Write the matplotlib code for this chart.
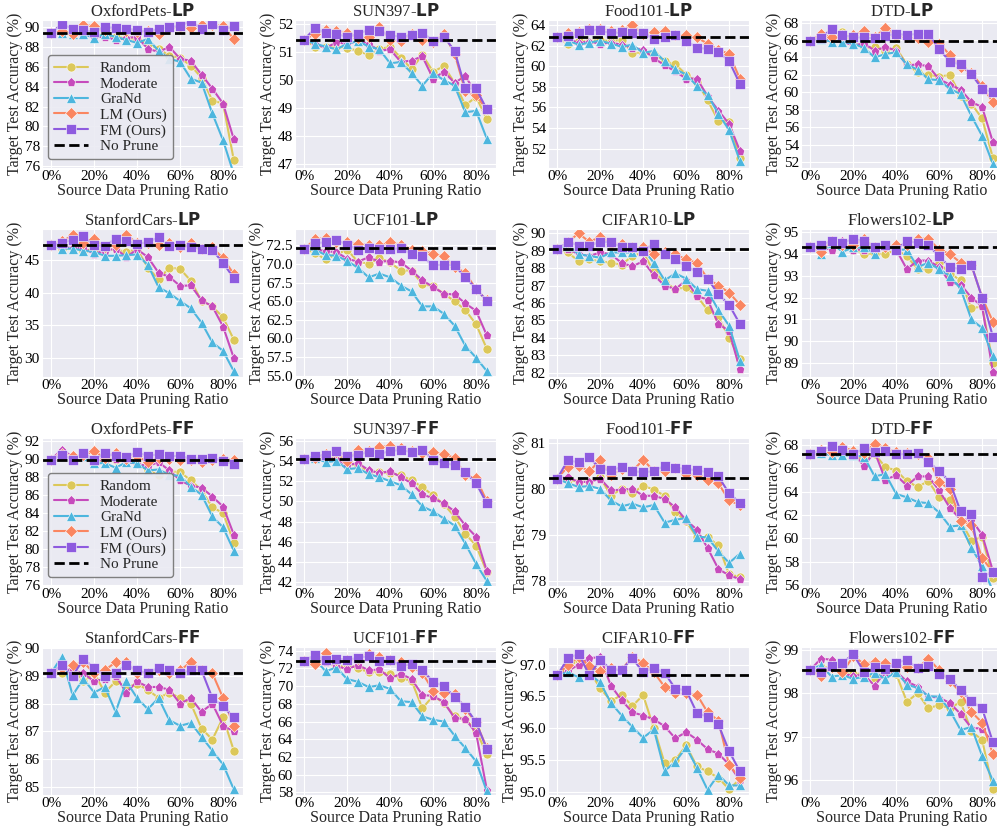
import numpy as np
import matplotlib
matplotlib.use("Agg")
import matplotlib.pyplot as plt
import seaborn as sns

sns.set_style("darkgrid")
plt.rcParams['font.family'] = ['Liberation Serif', 'DejaVu Serif']
plt.rcParams['mathtext.fontset'] = 'dejavusans'

# pruning ratios (%)
ratios = [0, 5, 10, 15, 20, 25, 30, 35, 40, 45, 50, 55, 60, 65, 70, 75, 80, 85]
methods = ['Random', 'Moderate', 'GraNd', 'LM (Ours)', 'FM (Ours)']
colors = ['#DCC85A', '#C64BBC', '#4DB6DE', '#FA8661', '#8E5BDF']
markers = ['o', 'p', '^', 'D', 's']

# ---------------- LP ----------------
pets_lp_nop = 89.4
pets_lp_random = [89.4, 89.5, 89.3, 89.5, 89.2, 89.2, 89.0, 88.9, 88.8, 88.3, 87.8, 87.1, 86.9, 86.1, 84.9, 82.6, 82.3, 76.6]
pets_lp_moderate = [89.4, 89.3, 89.3, 89.2, 89.0, 89.0, 88.7, 88.9, 89.0, 87.8, 87.5, 88.0, 86.8, 86.6, 85.2, 83.8, 82.3, 78.7]
pets_lp_grand = [89.4, 89.4, 89.3, 89.3, 88.9, 89.3, 89.0, 88.7, 88.4, 88.8, 87.6, 86.8, 86.5, 84.8, 84.4, 81.3, 78.6, 75.2]
pets_lp_lm = [89.4, 89.6, 89.3, 90.2, 90.1, 89.7, 89.8, 89.6, 89.5, 89.6, 89.3, 89.9, 90.0, 89.9, 90.2, 90.2, 90.1, 88.8]
pets_lp_fm = [89.4, 90.3, 89.8, 89.7, 89.5, 90.0, 89.9, 89.8, 89.7, 89.5, 89.8, 90.0, 90.1, 90.6, 89.8, 90.3, 89.7, 90.1]

sun_lp_nop = 51.45
sun_lp_random = [51.45, 51.2, 51.2, 51.2, 51.15, 51.05, 50.9, 51.1, 51.2, 50.8, 50.4, 50.9, 50.3, 50.5, 49.9, 49.1, 49.4, 48.6]
sun_lp_moderate = [51.45, 51.3, 51.15, 51.35, 51.3, 51.4, 51.3, 51.05, 51.1, 50.65, 50.7, 50.85, 50.05, 50.3, 49.9, 50.15, 49.5, 48.95]
sun_lp_grand = [51.45, 51.3, 51.2, 51.1, 51.3, 51.4, 51.2, 51.1, 50.6, 50.65, 50.25, 49.8, 50.25, 50.0, 49.8, 48.85, 48.9, 47.9]
sun_lp_lm = [51.45, 51.65, 51.8, 51.75, 51.7, 51.5, 51.55, 51.9, 51.45, 51.4, 51.65, 51.45, 51.35, 51.65, 50.95, 49.6, 49.45, 48.95]
sun_lp_fm = [51.45, 51.85, 51.7, 51.65, 51.55, 51.65, 51.8, 51.75, 51.6, 51.55, 51.6, 51.7, 51.4, 51.55, 51.05, 49.7, 49.7, 48.95]

food_lp_nop = 62.8
food_lp_random = [62.8, 62.2, 62.5, 62.4, 62.6, 62.4, 62.6, 61.3, 61.3, 61.2, 60.5, 60.2, 59.2, 58.5, 56.7, 54.7, 54.6, 51.1]
food_lp_moderate = [62.8, 62.6, 62.3, 62.4, 62.2, 62.3, 62.1, 61.8, 61.6, 60.8, 60.1, 59.5, 58.8, 58.8, 57.1, 55.7, 54.4, 51.8]
food_lp_grand = [62.8, 62.5, 62.1, 62.3, 62.5, 62.2, 61.9, 62.1, 61.3, 61.5, 60.5, 59.7, 59.2, 58.1, 57.2, 55.4, 53.8, 50.8]
food_lp_lm = [62.8, 63.2, 63.3, 63.6, 63.6, 63.4, 63.5, 64.0, 63.1, 63.3, 63.4, 63.0, 63.0, 62.8, 62.2, 61.6, 61.2, 58.8]
food_lp_fm = [62.8, 62.9, 63.2, 63.5, 63.5, 63.2, 63.3, 63.2, 63.2, 62.7, 62.8, 63.0, 62.5, 61.8, 61.7, 61.4, 60.5, 58.3]

dtd_lp_nop = 65.9
dtd_lp_random = [65.9, 66.2, 66.0, 66.9, 65.6, 65.2, 65.2, 64.8, 65.1, 63.2, 62.3, 62.0, 61.8, 62.0, 59.6, 58.7, 57.0, 52.5]
dtd_lp_moderate = [65.9, 66.1, 66.0, 65.8, 65.4, 65.6, 64.8, 65.2, 64.8, 63.1, 63.2, 63.0, 61.5, 60.9, 60.3, 58.9, 58.3, 54.3]
dtd_lp_grand = [65.9, 66.1, 65.8, 65.8, 65.6, 65.1, 64.0, 64.4, 64.6, 63.2, 62.6, 61.5, 61.4, 60.4, 59.8, 57.3, 55.0, 51.8]
dtd_lp_lm = [65.9, 66.7, 66.3, 66.6, 66.6, 67.0, 66.3, 67.4, 66.5, 66.3, 66.2, 65.8, 65.6, 64.3, 62.9, 62.2, 60.7, 58.9]
dtd_lp_fm = [65.9, 66.2, 67.3, 66.6, 66.3, 66.3, 66.2, 66.5, 66.7, 66.6, 66.7, 66.7, 65.0, 63.5, 63.2, 62.1, 60.4, 60.0]

cars_lp_nop = 47.25
cars_lp_random = [47.2, 46.6, 46.8, 46.4, 46.6, 46.5, 46.6, 46.2, 46.6, 43.8, 42.0, 43.8, 43.6, 41.8, 38.7, 37.9, 36.2, 32.8]
cars_lp_moderate = [47.2, 46.9, 46.8, 46.8, 45.9, 46.4, 46.7, 45.4, 46.6, 45.4, 43.0, 42.4, 41.0, 41.1, 38.8, 37.9, 34.8, 30.0]
cars_lp_grand = [47.2, 46.7, 46.7, 46.4, 46.2, 45.6, 45.6, 45.7, 45.8, 44.2, 40.8, 39.9, 38.7, 37.6, 35.4, 32.4, 31.1, 28.0]
cars_lp_lm = [47.2, 47.8, 48.7, 47.5, 48.1, 47.0, 47.2, 48.8, 47.5, 47.6, 47.3, 47.6, 47.0, 47.6, 46.6, 46.9, 45.2, 42.8]
cars_lp_fm = [47.2, 47.6, 48.0, 48.6, 47.2, 47.1, 48.2, 47.9, 47.4, 47.7, 48.4, 47.1, 47.3, 46.9, 46.7, 46.5, 44.5, 42.2]

ucf_lp_nop = 72.2
ucf_lp_random = [72.0, 71.5, 70.6, 71.3, 71.9, 70.3, 70.0, 70.8, 70.2, 69.1, 69.1, 67.3, 67.0, 66.0, 65.0, 63.8, 61.9, 58.6]
ucf_lp_moderate = [72.0, 72.0, 71.7, 71.6, 70.7, 70.3, 70.9, 70.3, 70.4, 70.2, 69.1, 67.8, 66.9, 66.0, 65.9, 64.7, 63.7, 60.4]
ucf_lp_grand = [72.0, 71.9, 71.2, 71.1, 70.4, 69.5, 68.2, 68.7, 68.2, 67.1, 66.3, 64.3, 64.3, 63.3, 61.7, 59.0, 57.4, 55.6]
ucf_lp_lm = [72.0, 73.3, 73.5, 73.0, 72.9, 72.7, 72.6, 72.5, 72.9, 72.6, 71.9, 71.8, 71.4, 71.0, 69.6, 68.8, 66.6, 65.1]
ucf_lp_fm = [72.0, 72.8, 72.9, 73.2, 72.6, 71.9, 72.2, 72.0, 72.0, 72.1, 71.3, 71.0, 69.8, 69.9, 69.8, 68.2, 66.7, 65.0]

cifar_lp_nop = 89.1
cifar_lp_random = [89.1, 88.9, 88.4, 88.5, 88.4, 88.3, 88.2, 88.7, 88.9, 87.8, 87.2, 86.8, 86.9, 86.4, 85.6, 85.2, 84.0, 82.8]
cifar_lp_moderate = [89.1, 89.1, 88.8, 88.7, 88.9, 88.8, 88.3, 88.1, 88.4, 87.6, 87.0, 86.8, 87.3, 86.4, 86.2, 84.8, 84.4, 82.2]
cifar_lp_grand = [89.1, 89.3, 88.8, 88.7, 88.6, 88.9, 88.9, 88.9, 89.1, 88.3, 87.3, 87.7, 87.4, 86.8, 86.7, 85.6, 84.7, 82.7]
cifar_lp_lm = [89.1, 89.5, 90.0, 89.5, 89.8, 89.4, 89.4, 89.2, 89.2, 88.8, 88.9, 88.8, 88.5, 88.3, 87.4, 87.0, 86.6, 85.9]
cifar_lp_fm = [89.1, 89.5, 89.3, 89.3, 89.5, 89.5, 89.2, 89.2, 89.0, 89.4, 88.8, 88.5, 88.1, 87.8, 87.4, 86.5, 85.9, 84.8]

flowers_lp_nop = 94.3
flowers_lp_random = [94.3, 94.1, 94.4, 94.3, 94.2, 94.0, 94.0, 94.0, 94.2, 93.9, 93.3, 93.3, 93.6, 93.1, 92.8, 91.5, 91.6, 89.0]
flowers_lp_moderate = [94.3, 94.3, 94.2, 94.6, 94.2, 94.2, 94.3, 94.3, 94.2, 93.3, 93.7, 93.7, 93.4, 92.7, 92.6, 92.0, 91.6, 88.6]
flowers_lp_grand = [94.3, 94.0, 94.5, 94.1, 94.3, 94.3, 94.0, 94.4, 94.2, 94.2, 93.4, 93.6, 93.3, 93.0, 92.4, 91.0, 90.6, 89.3]
flowers_lp_lm = [94.3, 94.1, 94.6, 94.4, 94.4, 94.7, 94.3, 94.3, 94.4, 94.4, 94.7, 94.7, 94.2, 94.0, 93.6, 93.5, 92.0, 90.9]
flowers_lp_fm = [94.3, 94.4, 94.6, 94.5, 94.7, 94.6, 94.3, 94.4, 94.2, 94.6, 94.5, 94.4, 93.9, 93.4, 93.3, 93.5, 92.0, 90.2]

# ---------------- FF ----------------
pets_ff_nop = 89.9
pets_ff_random = [89.9, 90.6, 90.1, 90.3, 89.8, 89.7, 89.8, 89.7, 89.4, 88.7, 88.2, 88.6, 88.5, 87.6, 86.5, 84.6, 84.0, 80.7]
pets_ff_moderate = [89.9, 91.0, 90.2, 90.2, 89.9, 89.8, 90.0, 89.7, 89.4, 89.2, 89.6, 88.7, 87.6, 87.0, 86.8, 85.8, 84.7, 81.6]
pets_ff_grand = [89.9, 90.4, 90.3, 90.3, 89.5, 89.5, 89.0, 89.6, 89.5, 88.7, 88.8, 88.2, 88.1, 86.9, 86.0, 83.6, 82.4, 79.8]
pets_ff_lm = [89.9, 90.5, 90.3, 90.4, 90.8, 90.1, 90.6, 90.0, 90.3, 89.6, 90.1, 90.0, 89.9, 89.9, 89.6, 89.9, 90.0, 89.8]
pets_ff_fm = [89.9, 90.4, 89.9, 90.6, 89.9, 90.6, 90.3, 90.2, 90.7, 90.3, 90.5, 90.3, 90.3, 90.0, 90.0, 90.1, 89.7, 89.4]

sun_ff_nop = 54.2
sun_ff_random = [54.2, 54.4, 54.3, 54.4, 53.7, 53.6, 53.0, 52.9, 52.8, 52.6, 52.1, 51.4, 50.6, 49.7, 48.5, 46.8, 45.6, 43.0]
sun_ff_moderate = [54.2, 54.3, 54.3, 54.2, 53.6, 53.8, 53.1, 52.8, 53.0, 52.4, 51.8, 50.7, 50.3, 49.8, 49.0, 47.6, 46.5, 43.1]
sun_ff_grand = [54.2, 54.3, 53.9, 54.0, 53.2, 53.3, 52.7, 52.4, 52.0, 51.6, 50.7, 49.5, 49.0, 48.3, 47.6, 45.8, 43.8, 42.1]
sun_ff_lm = [54.2, 54.3, 54.7, 54.9, 54.0, 55.1, 55.0, 55.4, 55.5, 55.3, 55.0, 54.8, 54.9, 54.7, 54.3, 52.6, 52.3, 50.0]
sun_ff_fm = [54.2, 54.5, 54.6, 55.0, 54.5, 54.6, 54.9, 54.7, 55.0, 55.1, 54.9, 55.1, 54.1, 53.8, 53.6, 52.9, 51.8, 49.8]

food_ff_nop = 80.24
food_ff_random = [80.22, 80.2, 80.15, 80.15, 80.25, 79.85, 80.0, 79.9, 80.07, 79.98, 79.85, 79.5, 79.3, 78.95, 78.95, 78.78, 78.15, 78.1]
food_ff_moderate = [80.22, 80.25, 80.15, 80.15, 80.22, 79.97, 79.98, 80.0, 79.85, 79.85, 79.78, 79.6, 79.32, 79.12, 78.72, 78.27, 78.13, 78.05]
food_ff_grand = [80.22, 80.12, 80.04, 80.06, 80.0, 79.75, 79.62, 79.68, 79.6, 79.65, 79.27, 79.33, 79.37, 78.97, 78.95, 78.65, 78.4, 78.6]
food_ff_lm = [80.22, 80.48, 80.5, 80.38, 80.62, 80.3, 80.42, 80.38, 80.63, 80.38, 80.38, 80.45, 80.33, 80.3, 80.2, 80.12, 79.75, 79.65]
food_ff_fm = [80.22, 80.62, 80.57, 80.68, 80.43, 80.4, 80.47, 80.38, 80.36, 80.38, 80.5, 80.45, 80.43, 80.4, 80.36, 80.27, 79.9, 79.7]

dtd_ff_nop = 67.25
dtd_ff_random = [67.2, 67.2, 67.3, 67.4, 67.3, 66.6, 67.2, 66.1, 65.8, 64.9, 64.4, 64.9, 63.5, 63.3, 61.5, 59.8, 60.1, 56.6]
dtd_ff_moderate = [67.2, 67.5, 67.2, 67.3, 67.3, 66.2, 67.4, 65.0, 65.4, 64.5, 65.3, 65.3, 64.1, 62.6, 61.6, 61.6, 60.3, 57.2]
dtd_ff_grand = [67.2, 67.3, 67.1, 67.1, 67.1, 67.0, 65.3, 65.5, 63.8, 63.5, 63.1, 63.0, 62.2, 61.0, 61.1, 59.2, 57.6, 55.5]
dtd_ff_lm = [67.2, 67.6, 67.4, 67.8, 67.5, 67.3, 68.1, 67.7, 67.4, 67.3, 67.2, 66.9, 64.8, 64.2, 61.5, 61.1, 58.3, 57.1]
dtd_ff_fm = [67.2, 67.5, 67.9, 67.6, 67.2, 67.7, 67.4, 67.5, 67.2, 67.2, 67.3, 66.5, 65.8, 64.8, 62.3, 62.1, 56.7, 57.1]

cars_ff_nop = 89.12
cars_ff_random = [89.1, 89.1, 89.3, 88.8, 89.1, 88.4, 88.8, 88.6, 88.7, 88.5, 88.2, 88.4, 88.2, 88.0, 87.1, 86.7, 87.5, 86.3]
cars_ff_moderate = [89.1, 89.3, 89.2, 89.1, 88.8, 88.9, 89.0, 88.4, 88.8, 88.6, 88.6, 88.5, 88.0, 88.2, 87.7, 88.0, 87.2, 87.0]
cars_ff_grand = [89.1, 89.7, 88.3, 88.9, 88.4, 88.6, 87.7, 88.8, 88.2, 87.8, 88.2, 87.4, 87.2, 87.3, 86.8, 86.3, 85.8, 84.9]
cars_ff_lm = [89.1, 89.3, 89.4, 89.5, 89.1, 89.2, 89.5, 89.5, 89.1, 89.1, 89.2, 89.1, 89.2, 89.5, 89.2, 89.1, 88.2, 87.2]
cars_ff_fm = [89.1, 89.4, 89.0, 89.6, 89.3, 89.0, 89.1, 89.4, 89.2, 89.1, 89.3, 89.2, 89.1, 89.2, 89.2, 88.2, 87.9, 87.5]

ucf_ff_nop = 72.9
ucf_ff_random = [72.9, 73.3, 73.0, 72.0, 72.5, 72.0, 71.6, 71.6, 71.4, 70.9, 70.6, 67.5, 68.9, 68.1, 66.6, 66.3, 65.0, 62.3]
ucf_ff_moderate = [72.9, 73.3, 72.7, 72.3, 71.9, 72.4, 71.8, 71.9, 70.9, 71.4, 70.8, 69.0, 68.9, 68.2, 66.4, 66.3, 64.7, 58.3]
ucf_ff_grand = [72.9, 73.0, 71.7, 72.1, 70.8, 70.5, 69.9, 70.1, 69.7, 68.3, 68.2, 66.6, 66.2, 66.0, 64.4, 63.0, 61.5, 58.1]
ucf_ff_lm = [72.9, 72.5, 73.7, 73.0, 73.0, 73.1, 73.6, 73.3, 73.0, 72.7, 72.2, 71.5, 69.5, 69.2, 69.1, 67.4, 65.9, 63.0]
ucf_ff_fm = [72.9, 73.5, 73.0, 73.1, 73.0, 73.2, 73.4, 72.9, 73.0, 72.3, 72.5, 71.8, 70.5, 70.0, 68.8, 67.7, 65.9, 62.9]

cifar_ff_nop = 96.83
cifar_ff_random = [96.83, 96.95, 97.08, 96.9, 96.63, 96.43, 96.52, 96.35, 96.52, 96.0, 95.45, 95.5, 95.73, 95.4, 95.32, 95.22, 95.04, 95.2]
cifar_ff_moderate = [96.83, 96.9, 97.0, 97.1, 97.12, 96.67, 96.44, 96.25, 96.2, 96.14, 96.03, 95.84, 95.94, 95.82, 95.67, 95.6, 95.43, 95.18]
cifar_ff_grand = [96.83, 96.88, 96.8, 96.85, 96.72, 96.4, 96.2, 96.02, 95.85, 95.98, 95.33, 95.47, 95.7, 95.38, 95.03, 95.27, 95.1, 95.1]
cifar_ff_lm = [96.83, 97.0, 97.12, 96.98, 96.9, 96.95, 96.92, 97.12, 97.03, 96.88, 96.65, 96.55, 96.55, 96.53, 96.25, 96.12, 95.42, 95.22]
cifar_ff_fm = [96.83, 97.1, 97.17, 96.83, 97.08, 96.92, 96.92, 97.1, 96.88, 96.95, 96.87, 96.62, 96.6, 96.24, 96.18, 96.06, 95.64, 95.32]

flowers_ff_nop = 98.53
flowers_ff_random = [98.53, 98.6, 98.6, 98.5, 98.45, 98.45, 98.35, 98.5, 98.45, 97.8, 98.0, 97.65, 97.73, 97.65, 97.8, 97.12, 96.92, 95.8]
flowers_ff_moderate = [98.53, 98.8, 98.77, 98.45, 98.4, 98.43, 98.17, 98.5, 98.5, 98.27, 98.15, 97.92, 97.9, 97.77, 97.52, 97.2, 97.18, 96.85]
flowers_ff_grand = [98.53, 98.65, 98.38, 98.42, 98.33, 98.38, 98.47, 98.33, 98.5, 98.2, 98.12, 97.93, 97.92, 97.6, 97.15, 97.22, 96.55, 95.98]
flowers_ff_lm = [98.53, 98.4, 98.6, 98.48, 98.85, 98.68, 98.72, 98.7, 98.65, 98.6, 98.58, 98.8, 98.53, 98.28, 98.02, 97.57, 97.32, 96.6]
flowers_ff_fm = [98.53, 98.5, 98.63, 98.7, 98.9, 98.5, 98.6, 98.55, 98.7, 98.77, 98.57, 98.63, 98.45, 98.33, 98.07, 97.82, 97.65, 96.87]

# panel order: title, setting, series, no-prune, y-limits, y-ticks, tick format
panels = [
    ('OxfordPets', 'LP', [pets_lp_random, pets_lp_moderate, pets_lp_grand, pets_lp_lm, pets_lp_fm], pets_lp_nop, (75.8, 90.7), np.arange(76, 91, 2), '%d'),
    ('SUN397', 'LP', [sun_lp_random, sun_lp_moderate, sun_lp_grand, sun_lp_lm, sun_lp_fm], sun_lp_nop, (46.85, 52.15), np.arange(47, 53, 1), '%d'),
    ('Food101', 'LP', [food_lp_random, food_lp_moderate, food_lp_grand, food_lp_lm, food_lp_fm], food_lp_nop, (50.1, 64.5), np.arange(52, 65, 2), '%d'),
    ('DTD', 'LP', [dtd_lp_random, dtd_lp_moderate, dtd_lp_grand, dtd_lp_lm, dtd_lp_fm], dtd_lp_nop, (51.3, 68.3), np.arange(52, 69, 2), '%d'),
    ('StanfordCars', 'LP', [cars_lp_random, cars_lp_moderate, cars_lp_grand, cars_lp_lm, cars_lp_fm], cars_lp_nop, (27.1, 49.7), np.arange(30, 46, 5), '%d'),
    ('UCF101', 'LP', [ucf_lp_random, ucf_lp_moderate, ucf_lp_grand, ucf_lp_lm, ucf_lp_fm], ucf_lp_nop, (54.8, 74.7), np.arange(55, 73, 2.5), '%.1f'),
    ('CIFAR10', 'LP', [cifar_lp_random, cifar_lp_moderate, cifar_lp_grand, cifar_lp_lm, cifar_lp_fm], cifar_lp_nop, (81.75, 90.25), np.arange(82, 91, 1), '%d'),
    ('Flowers102', 'LP', [flowers_lp_random, flowers_lp_moderate, flowers_lp_grand, flowers_lp_lm, flowers_lp_fm], flowers_lp_nop, (88.35, 95.15), np.arange(89, 96, 1), '%d'),
    ('OxfordPets', 'FF', [pets_ff_random, pets_ff_moderate, pets_ff_grand, pets_ff_lm, pets_ff_fm], pets_ff_nop, (75.9, 92.3), np.arange(76, 93, 2), '%d'),
    ('SUN397', 'FF', [sun_ff_random, sun_ff_moderate, sun_ff_grand, sun_ff_lm, sun_ff_fm], sun_ff_nop, (41.6, 56.3), np.arange(42, 57, 2), '%d'),
    ('Food101', 'FF', [food_ff_random, food_ff_moderate, food_ff_grand, food_ff_lm, food_ff_fm], food_ff_nop, (77.9, 81.1), np.arange(78, 82, 1), '%d'),
    ('DTD', 'FF', [dtd_ff_random, dtd_ff_moderate, dtd_ff_grand, dtd_ff_lm, dtd_ff_fm], dtd_ff_nop, (55.9, 68.6), np.arange(56, 69, 2), '%d'),
    ('StanfordCars', 'FF', [cars_ff_random, cars_ff_moderate, cars_ff_grand, cars_ff_lm, cars_ff_fm], cars_ff_nop, (84.7, 90.05), np.arange(85, 91, 1), '%d'),
    ('UCF101', 'FF', [ucf_ff_random, ucf_ff_moderate, ucf_ff_grand, ucf_ff_lm, ucf_ff_fm], ucf_ff_nop, (57.7, 74.45), np.arange(58, 75, 2), '%d'),
    ('CIFAR10', 'FF', [cifar_ff_random, cifar_ff_moderate, cifar_ff_grand, cifar_ff_lm, cifar_ff_fm], cifar_ff_nop, (94.95, 97.28), np.arange(95, 97.1, 0.5), '%.1f'),
    ('Flowers102', 'FF', [flowers_ff_random, flowers_ff_moderate, flowers_ff_grand, flowers_ff_lm, flowers_ff_fm], flowers_ff_nop, (95.65, 99.07), np.arange(96, 100, 1), '%d'),
]

fig, axes = plt.subplots(4, 4, figsize=(9.97, 8.32), dpi=100)
fig.subplots_adjust(left=42/997, right=1002/997, bottom=1-795/832, top=1-20/832,
                    wspace=0.259, hspace=0.41)

for k, (name, setting, series, nop, ylim, yticks, fmt) in enumerate(panels):
    ax = axes.flat[k]
    for vals, lab, c, m in zip(series, methods, colors, markers):
        ax.plot(ratios, vals, color=c, marker=m, markersize=6.5, linewidth=1.5,
                markeredgecolor='white', markeredgewidth=0.4, label=lab)
    ax.axhline(nop, color='black', linestyle='--', linewidth=2, label='No Prune')
    ax.set_ylim(ylim)
    ax.set_yticks(yticks)
    ax.set_yticklabels([fmt % t for t in yticks])
    ax.set_xticks([0, 20, 40, 60, 80])
    ax.set_xticklabels(['0%', '20%', '40%', '60%', '80%'])
    ax.tick_params(labelsize=11, labelcolor='black', length=0, pad=1.5)
    ax.set_title(name + '-' + r'$\mathbf{' + setting + '}$', fontsize=12, pad=3)
    ax.set_xlabel('Source Data Pruning Ratio', fontsize=11.5, labelpad=0)
    ax.set_ylabel('Target Test Accuracy (%)', fontsize=11.5, labelpad=1)
    if name == 'OxfordPets':
        ax.legend(loc='lower left', bbox_to_anchor=(0.03, 0.06), borderaxespad=0,
                  fontsize=11, labelspacing=0.12, handlelength=2.2,
                  handletextpad=0.8, frameon=True, edgecolor='0.45', framealpha=0.9)

fig.savefig('out.png', dpi=100)
